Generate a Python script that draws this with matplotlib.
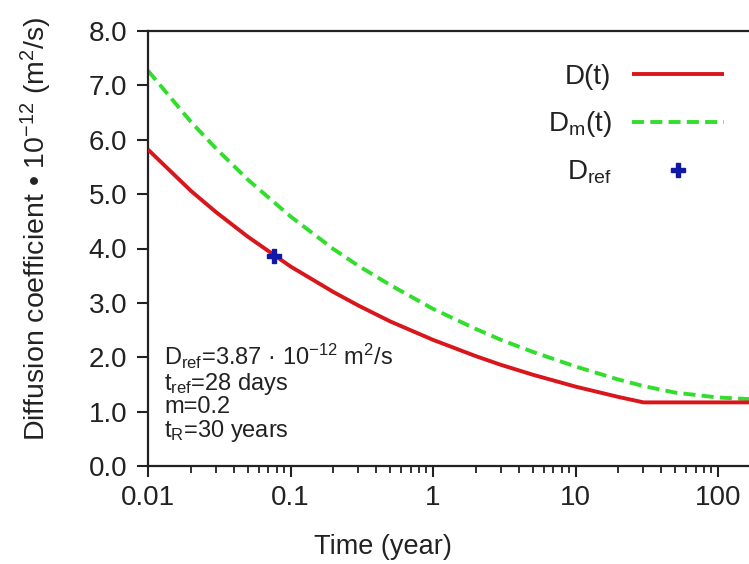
import matplotlib
matplotlib.use("Agg")
import matplotlib.pyplot as plt
from matplotlib.ticker import FixedLocator, FixedFormatter, LogLocator, NullFormatter

plt.rcParams['font.family'] = ['Liberation Sans', 'DejaVu Sans']
plt.rcParams['mathtext.fontset'] = 'custom'
plt.rcParams['mathtext.rm'] = 'Liberation Sans'
plt.rcParams['mathtext.it'] = 'Liberation Sans:italic'
plt.rcParams['mathtext.bf'] = 'Liberation Sans:bold'

# ---- data ----
time_years = [0.01, 0.02, 0.03, 0.05, 0.1, 0.2, 0.3, 0.5, 1, 2, 3, 5, 10, 20, 30,
              50, 100, 200, 300, 500, 1000]
D_t = [5.82, 5.06, 4.67, 4.22, 3.67, 3.20, 2.95, 2.66, 2.32, 2.02, 1.86, 1.68,
       1.46, 1.27, 1.17, 1.17, 1.17, 1.17, 1.17, 1.17, 1.17]
Dm_t = [7.27, 6.33, 5.84, 5.27, 4.59, 3.99, 3.68, 3.33, 2.89, 2.52, 2.32, 2.10,
        1.83, 1.59, 1.47, 1.35, 1.26, 1.22, 1.20, 1.19, 1.18]
t_ref = [0.0767]
D_ref = [3.87]

x_ticks = [0.01, 0.1, 1, 10, 100, 1000]
x_tick_labels = ['0.01', '0.1', '1', '10', '100', '1000']
y_ticks = [0, 1, 2, 3, 4, 5, 6, 7, 8]
y_tick_labels = ['0.0', '1.0', '2.0', '3.0', '4.0', '5.0', '6.0', '7.0', '8.0']

W, H = 749, 564
fig = plt.figure(figsize=(W / 100, H / 100), dpi=100)
x0, x1 = 148, 860.5
y0, y1 = 466, 31
ax = fig.add_axes([x0 / W, 1 - y0 / H, (x1 - x0) / W, (y0 - y1) / H])

ax.plot(time_years, D_t, color='#d8161c', lw=2.8, solid_capstyle='butt', label='D(t)', zorder=3)
ax.plot(time_years, Dm_t, color='#33dd2e', lw=2.8, ls=(0, (3.1, 1.6)), label=r'$\mathrm{D_m}$(t)', zorder=2)
ax.plot(t_ref, D_ref, ls='none', marker='P', ms=10.5, color='#1018a8', mec='#1018a8', label=r'$\mathrm{D_{ref}}$', zorder=4)

ax.set_xscale('log')
ax.set_xlim(0.01, 1000)
ax.set_ylim(0, 8)
ax.xaxis.set_major_locator(FixedLocator(x_ticks))
ax.xaxis.set_major_formatter(FixedFormatter(x_tick_labels))
ax.xaxis.set_minor_locator(LogLocator(base=10, subs=range(2, 10)))
ax.xaxis.set_minor_formatter(NullFormatter())
ax.yaxis.set_major_locator(FixedLocator(y_ticks))
ax.yaxis.set_major_formatter(FixedFormatter(y_tick_labels))

for s in ax.spines.values():
    s.set_linewidth(1.6)
    s.set_color('#222222')
ax.tick_params(axis='both', which='major', direction='out', length=8, width=1.5,
               labelsize=20, pad=6, color='#222222', labelcolor='#222222')
ax.tick_params(axis='x', which='minor', direction='out', length=5, width=1.3, color='#222222')
ax.tick_params(axis='y', which='major', pad=7)

fig.text(383 / W, 1 - 547 / H, 'Time (year)', ha='center', va='center', fontsize=19.5, color='#222222')
fig.text(36 / W, 1 - 229 / H, r'Diffusion coefficient • 10$^{-12}$ (m$^2$/s)',
         ha='center', va='center', rotation=90, fontsize=20.5, color='#222222')

ann = [r'$\mathrm{D_{ref}}$=3.87 · 10$^{-12}$ m$^2$/s',
       r'$\mathrm{t_{ref}}$=28 days',
       'm=0.2',
       r'$\mathrm{t_R}$=30 years']
baselines = [365, 390, 413, 437]
for s, b in zip(ann, baselines):
    fig.text(164 / W, 1 - b / H, s, ha='left', va='baseline', fontsize=17, color='#222222')

leg = ax.legend(loc='upper right', bbox_to_anchor=(724 / W, 1 - 64 / H),
                bbox_transform=fig.transFigure, frameon=False, markerfirst=False,
                fontsize=20, handlelength=3.3, handletextpad=0.75, labelspacing=0.7,
                borderpad=0, borderaxespad=0)
for t in leg.get_texts():
    t.set_ha('right')
    t.set_color('#222222')

fig.savefig('out.png', dpi=100)
